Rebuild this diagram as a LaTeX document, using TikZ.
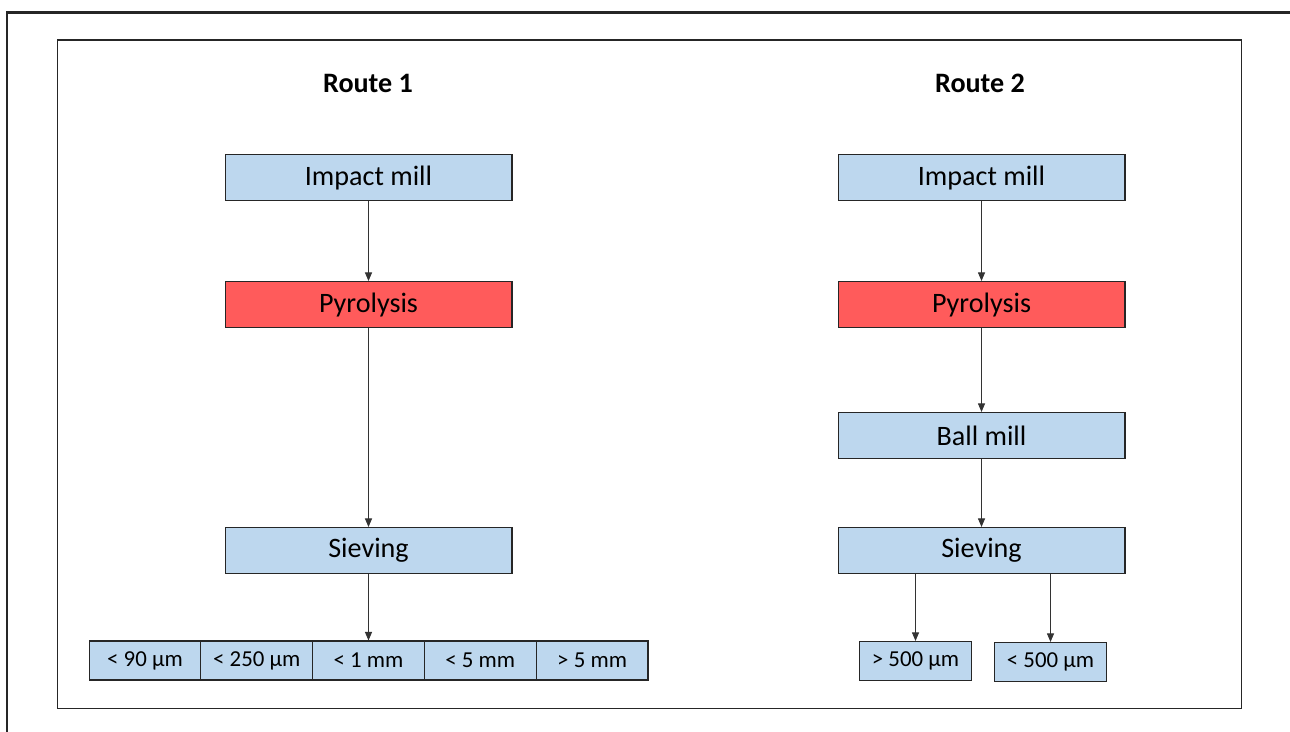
\documentclass[tikz,border=0pt]{standalone}
\usepackage{fontspec}
\setmainfont{Carlito}
\usepackage{tikz}
\usetikzlibrary{arrows.meta, positioning}
\definecolor{boxblue}{RGB}{189,215,238}
\definecolor{pyrored}{RGB}{255,91,91}

\tikzset{
  stepbox/.style={draw=black!85, line width=0.6pt, fill=boxblue, minimum width=5.74cm,
    minimum height=0.92cm, inner sep=0pt, font=\fontsize{16}{19}\selectfont},
  hotbox/.style={stepbox, fill=pyrored},
  sizebox/.style={draw=black!85, line width=0.6pt, fill=boxblue, minimum width=2.236cm,
    minimum height=0.78cm, inner sep=0pt, font=\fontsize{13}{15}\selectfont},
  flow/.style={-{Triangle[length=0.17cm, width=0.14cm]}, line width=0.5pt, black!80},
  routetitle/.style={font=\bfseries\fontsize{16}{19}\selectfont}
}

\begin{document}
\begin{tikzpicture}[x=0.02cm, y=-0.02cm]
  \useasboundingbox (0,0) rectangle (1290,731);
  \draw[line width=1.2pt, black!85] (7,12.5) rectangle (1320,770);
  \draw[line width=0.9pt, black!85] (57.5,40) rectangle (1241.5,708.5);

  % Route 1
  \node[routetitle] (title1) at (368,83) {Route 1};
  \node[stepbox] (imill1) at (368.5,177.5) {Impact mill};
  \node[hotbox] (pyro1) at (368.5,304.5) {Pyrolysis};
  \node[stepbox] (sieve1) at (368.5,550.5) {Sieving};

  \node[sizebox] (lt90) at (145,660.5) {< 90 µm};
  \node[sizebox, right=-0.6pt of lt90] (lt250) {< 250 µm};
  \node[sizebox, right=-0.6pt of lt250] (lt1mm) {< 1 mm};
  \node[sizebox, right=-0.6pt of lt1mm] (lt5mm) {< 5 mm};
  \node[sizebox, right=-0.6pt of lt5mm] (gt5mm) {> 5 mm};

  \draw[flow] (imill1) -- (pyro1);
  \draw[flow] (pyro1) -- (sieve1);
  \draw[flow] (sieve1) -- (sieve1 |- lt1mm.north);

  % Route 2
  \node[routetitle] (title2) at (980,83) {Route 2};
  \node[stepbox] (imill2) at (981.5,177.5) {Impact mill};
  \node[hotbox] (pyro2) at (981.5,304.5) {Pyrolysis};
  \node[stepbox] (bmill2) at (981.5,435.5) {Ball mill};
  \node[stepbox] (sieve2) at (981.5,550.5) {Sieving};

  \node[sizebox] (gt500) at (915.5,661) {> 500 µm};
  \node[sizebox] (lt500) at (1050.5,662) {< 500 µm};

  \draw[flow] (imill2) -- (pyro2);
  \draw[flow] (pyro2) -- (bmill2);
  \draw[flow] (bmill2) -- (sieve2);
  \draw[flow] (gt500 |- sieve2.south) -- (gt500);
  \draw[flow] (lt500 |- sieve2.south) -- (lt500);
\end{tikzpicture}
\end{document}
